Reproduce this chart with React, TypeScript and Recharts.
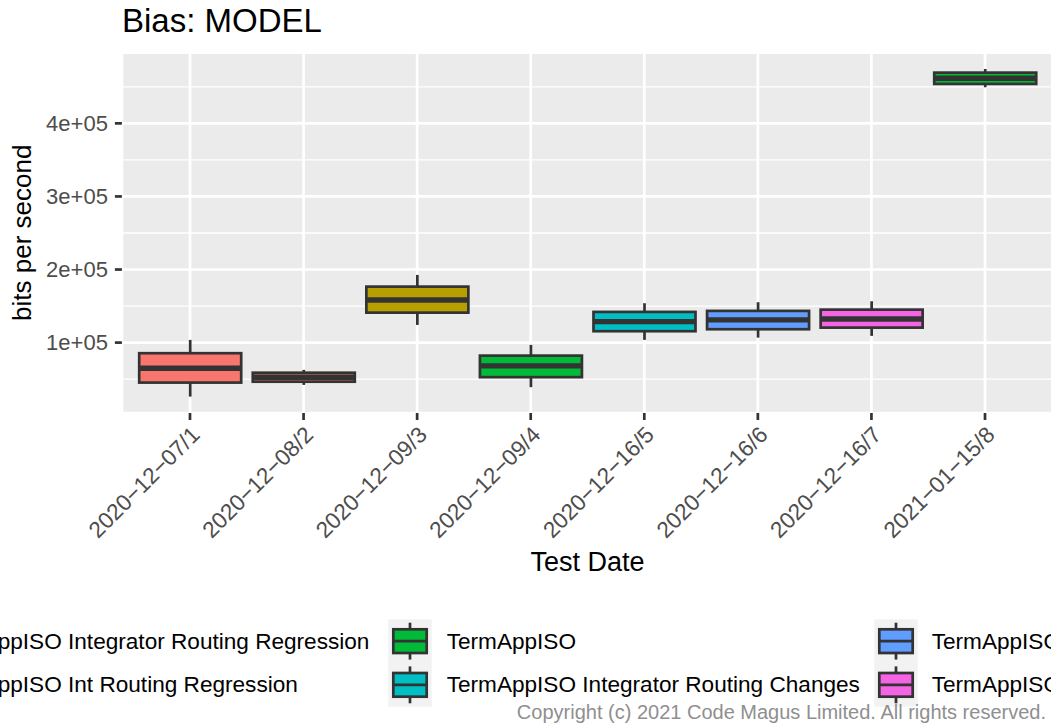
import { ComposedChart, Bar, XAxis, YAxis, CartesianGrid } from 'recharts'

const testDates = [
  '2020\u221212\u221207/1', '2020\u221212\u221208/2', '2020\u221212\u221209/3', '2020\u221212\u221209/4',
  '2020\u221212\u221216/5', '2020\u221212\u221216/6', '2020\u221212\u221216/7', '2021\u221201\u221215/8',
]
// group index of each box (fill colour)
const boxGroup = [0, 0, 1, 2, 3, 4, 5, 2]
const whiskerLow = [26100, 42100, 124200, 39000, 103700, 106800, 109200, 449400]
const lowerHinge = [45300, 46500, 141000, 52700, 115600, 118300, 120500, 453900]
const medians = [65000, 52500, 158400, 68100, 128700, 131100, 132400, 461700]
const upperHinge = [85500, 58800, 176600, 82200, 142000, 143400, 145100, 469400]
const whiskerHigh = [103700, 62700, 192600, 96900, 153900, 155300, 156600, 474400]

const groupLabels = [
  'TermAppISO Integrator Routing Regression',
  'TermAppISO Int Routing Regression',
  'TermAppISO',
  'TermAppISO Integrator Routing Changes',
  'TermAppISO Int Routing Changes',
  'TermAppISO Routing Changes',
]
const groupColours = ['#F8766D', '#B79F00', '#00BA38', '#00BFC4', '#619CFF', '#F564E3']

const yTicks = [100000, 200000, 300000, 400000]
const yMinorTicks = [50000, 150000, 250000, 350000, 450000]

const FONT = '"Liberation Sans", Arial, Helvetica, sans-serif'
const INK = '#333333'
const LW = 2.7

const rows = testDates.map((date, i) => ({
  date,
  low: whiskerLow[i],
  q1: lowerHinge[i],
  median: medians[i],
  q3: upperHinge[i],
  high: whiskerHigh[i],
  fill: groupColours[boxGroup[i]],
}))

// ggplot style 5% expansion of the data range
const dataMin = Math.min(...whiskerLow)
const dataMax = Math.max(...whiskerHigh)
const pad = (dataMax - dataMin) * 0.05
const yDomain = [dataMin - pad, dataMax + pad]

const sci = (v: number) => {
  const [m, e] = v.toExponential(0).split('e')
  const n = Number(e)
  return `${m}e${n < 0 ? '-' : '+'}${String(Math.abs(n)).padStart(2, '0')}`
}

function BoxShape(props: any) {
  const { x, y, width, height, payload } = props
  const top = Math.min(y, y + height)
  const bottom = Math.max(y, y + height)
  const span = payload.high - payload.low
  const py = (v: number) => bottom - ((v - payload.low) / span) * (bottom - top)
  const cx = x + width / 2
  return (
    <g>
      <line x1={cx} x2={cx} y1={py(payload.high)} y2={py(payload.q3)} stroke={INK} strokeWidth={LW} />
      <line x1={cx} x2={cx} y1={py(payload.q1)} y2={py(payload.low)} stroke={INK} strokeWidth={LW} />
      <rect x={x} y={py(payload.q3)} width={width} height={py(payload.q1) - py(payload.q3)}
        fill={payload.fill} stroke={INK} strokeWidth={LW} />
      <line x1={x} x2={x + width} y1={py(payload.median)} y2={py(payload.median)} stroke={INK} strokeWidth={LW * 2} />
    </g>
  )
}

function DateTick({ x, y, payload }: any) {
  return (
    <text x={x} y={y} dy="0.7em" textAnchor="end" transform={`rotate(-45 ${x} ${y})`}
      fontSize={22.6} fill="#4D4D4D" fontFamily={FONT}>
      {payload.value}
    </text>
  )
}

function LegendKey({ x, y, colour }: { x: number; y: number; colour: string }) {
  const w = 43.4, h = 43.7
  return (
    <g>
      <rect x={x} y={y} width={w} height={h} fill="#F2F2F2" />
      <line x1={x + w / 2} x2={x + w / 2} y1={y + 3.4} y2={y + h - 3.4} stroke={INK} strokeWidth={LW} />
      <rect x={x + 5} y={y + 10} width={w - 10} height={h - 20} fill={colour} stroke={INK} strokeWidth={LW} />
      <line x1={x + 5} x2={x + w - 5} y1={y + h / 2} y2={y + h / 2} stroke={INK} strokeWidth={LW} />
    </g>
  )
}

function Overlay() {
  // legend columns: key left edge, text left edge (column 1 runs off the left side)
  const cols = [
    { key: -126, text: -67.6 },
    { key: 388.3, text: 446.7 },
    { key: 874.3, text: 931.7 },
  ]
  const rowTop = [619.3, 663]
  return (
    <svg width={1051} height={725} style={{ position: 'absolute', left: 0, top: 0, pointerEvents: 'none' }}
      fontFamily={FONT}>
      <text x={122} y={32} fontSize={33} fill="#000">Bias: MODEL</text>
      <text x={31} y={232.8} fontSize={26} fill="#000" textAnchor="middle" transform="rotate(-90 31 232.8)">
        bits per second
      </text>
      <text x={587.5} y={571} fontSize={27} fill="#000" textAnchor="middle">Test Date</text>
      {groupLabels.map((label, i) => {
        const c = cols[Math.floor(i / 2)]
        const top = rowTop[i % 2]
        return (
          <g key={label}>
            <LegendKey x={c.key} y={top} colour={groupColours[i]} />
            <text x={c.text} y={top + 29.3} fontSize={22.6} fill="#000">{label}</text>
          </g>
        )
      })}
      <text x={1046} y={719} fontSize={20} fill="#8F8F8F" textAnchor="end">
        Copyright (c) 2021 Code Magus Limited. All rights reserved.
      </text>
    </svg>
  )
}

export default function App() {
  return (
    <div style={{ position: 'absolute', left: 0, top: 0, width: 1051, height: 725, overflow: 'hidden', background: '#fff' }}>
      <ComposedChart width={1060} height={725} data={rows} margin={{ top: 52.6, right: 6.9, left: 0, bottom: 0 }}>
        <CartesianGrid fill="#EBEBEB" stroke="#FFFFFF" strokeWidth={LW} />
        <CartesianGrid yAxisId="minor" vertical={false} stroke="#FFFFFF" strokeWidth={LW / 2} />
        <XAxis dataKey="date" type="category" interval={0} padding={{ left: 11.3, right: 11.3 }}
          height={312} axisLine={false} tickSize={7} tickMargin={5}
          tickLine={{ stroke: INK, strokeWidth: LW }} tick={<DateTick />} />
        <YAxis domain={yDomain} ticks={yTicks} tickFormatter={sci} width={121.9} axisLine={false}
          tickSize={7} tickMargin={7} tickLine={{ stroke: INK, strokeWidth: LW }}
          tick={{ fontSize: 22, fill: '#4D4D4D', fontFamily: FONT }} allowDataOverflow />
        <YAxis yAxisId="minor" hide domain={yDomain} ticks={yMinorTicks} allowDataOverflow />
        <Bar dataKey={(d: any) => [d.low, d.high]} barSize={102} shape={<BoxShape />} isAnimationActive={false} />
      </ComposedChart>
      <Overlay />
    </div>
  )
}
